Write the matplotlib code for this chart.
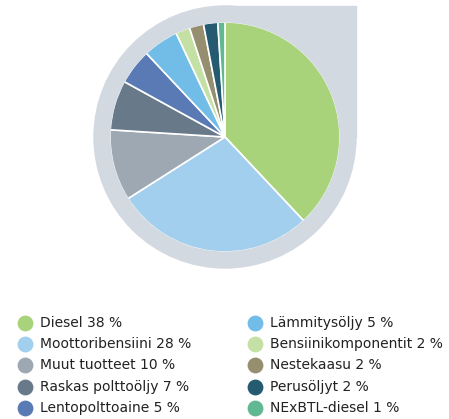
import matplotlib
matplotlib.use("Agg")
import matplotlib.pyplot as plt
from matplotlib.patches import Circle, Rectangle

labels = ['Diesel', 'Moottoribensiini', 'Muut tuotteet', 'Raskas polttoöljy',
          'Lentopolttoaine', 'Lämmitysöljy', 'Bensiinikomponentit', 'Nestekaasu',
          'Perusöljyt', 'NExBTL-diesel']
shares = [38, 28, 10, 7, 5, 5, 2, 2, 2, 1]
colors = ['#a9d37a', '#a2cfee', '#9ea8b2', '#687a8a', '#5a7ab5',
          '#72bde8', '#c5e0a5', '#958f70', '#265a70', '#62b893']

W, H = 449, 419
fig = plt.figure(figsize=(W / 100, H / 100), dpi=100)
ax = fig.add_axes([0, 0, 1, 1])

# drop-shaped background
cx, cy = 225, H - 137
bg = '#d3d9e0'
ax.add_patch(Circle((cx, cy), 131, color=bg, zorder=0))
ax.add_patch(Rectangle((cx, cy), 131, 131, color=bg, zorder=0))

R = 115
ax.pie(shares, colors=colors, startangle=90, counterclock=False,
       radius=R, center=(cx, cy), frame=True,
       wedgeprops=dict(edgecolor='white', linewidth=1.2))
# hide the white outer rim so only the slice separators stay
ax.add_patch(Circle((cx, cy), R + 0.6, fill=False, edgecolor=bg,
                    linewidth=1.6, zorder=5))
ax.set_xlim(0, W)
ax.set_ylim(0, H)
ax.set_aspect('equal')
ax.axis('off')

# legend in two columns
col_x = [25, 255]
row_y0, row_dy = 323, 21.2
for i, (lab, val, col) in enumerate(zip(labels, shares, colors)):
    c, r = divmod(i, 5)
    y = H - (row_y0 + r * row_dy)
    ax.scatter([col_x[c]], [y], s=130, color=col, zorder=3, linewidths=0)
    ax.text(col_x[c] + 15, y, f'{lab} {val} %', va='center', ha='left',
            fontsize=10, color='#222222')

fig.savefig('out.png', dpi=100)
